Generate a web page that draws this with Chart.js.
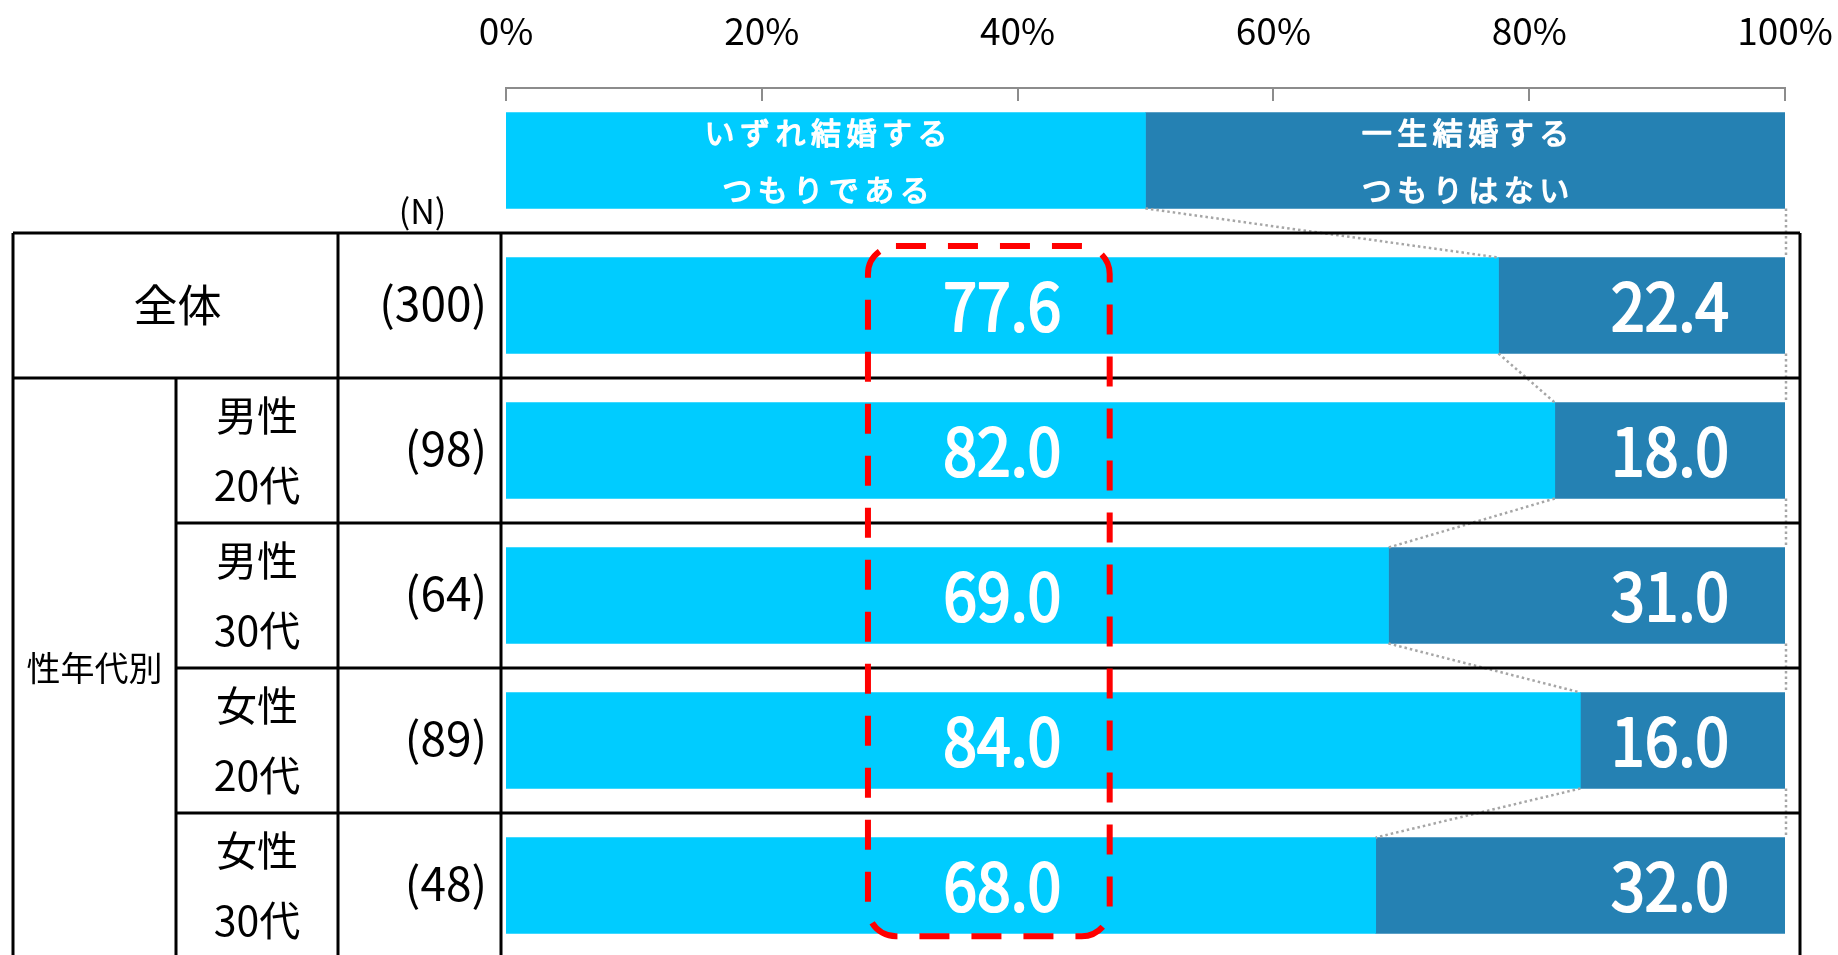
<!DOCTYPE html>
<html lang="ja">
<head>
<meta charset="utf-8">
<title>結婚意向</title>
<script src="https://cdn.jsdelivr.net/npm/chart.js@4.4.1/dist/chart.umd.min.js"></script>
<style>
  html, body { margin: 0; padding: 0; background: #fff; overflow: hidden; }
  #wrap { position: relative; width: 1838px; height: 958px; }
</style>
</head>
<body>
<div id="wrap"><canvas id="marriageChart"></canvas></div>
<script>
// Dados do gráfico
const seriesNames = [["いずれ結婚する", "つもりである"], ["一生結婚する", "つもりはない"]];
const rowLabels = [["全体"], ["男性", "20代"], ["男性", "30代"], ["女性", "20代"], ["女性", "30代"]];
const sampleSizes = [300, 98, 64, 89, 48];
const willMarry = [77.6, 82.0, 69.0, 84.0, 68.0];
const neverMarry = [22.4, 18.0, 31.0, 16.0, 32.0];
const xTicks = [0, 20, 40, 60, 80, 100];
const groupLabel = "性年代別";
const nHeader = "(N)";
// faixa do cabeçalho (legenda) desenhada como uma barra 50/50
const legendShare = [50, 50];

const colors = ["#00CCFF", "#2581B3"];
const FONT = "'Noto Sans CJK JP', 'Noto Sans', sans-serif";

// Posições fixas da tabela (colunas à esquerda do gráfico)
const TABLE = { left: 13, sub: 176, n: 338, chart: 501, right: 1800 };

// Escreve texto estreitado horizontalmente (fator sx), com contorno opcional para engrossar
function condensedText(ctx, text, px, py, sx, stroke) {
  ctx.save();
  ctx.translate(px, py);
  ctx.scale(sx, 1);
  if (stroke) {
    ctx.lineWidth = stroke;
    ctx.strokeStyle = ctx.fillStyle;
    ctx.lineJoin = "round";
    ctx.strokeText(text, 0, 0);
  }
  ctx.fillText(text, 0, 0);
  ctx.restore();
}

// Plugin que desenha a tabela, os rótulos, as linhas pontilhadas e a caixa vermelha
const tablePlugin = {
  id: "tablePlugin",
  afterDatasetsDraw(chart) {
    const { ctx, chartArea } = chart;
    const x = chart.scales.x;
    const y = chart.scales.y;
    const pitch = y.getPixelForValue(1) - y.getPixelForValue(0);
    const bottom = chart.height;
    const metaA = chart.getDatasetMeta(0).data;
    const metaB = chart.getDatasetMeta(1).data;

    ctx.save();

    // Marcas do eixo (para dentro)
    ctx.strokeStyle = "#8c8c8c";
    ctx.lineWidth = 2;
    xTicks.forEach((t) => {
      const px = Math.round(x.getPixelForValue(t));
      ctx.beginPath();
      ctx.moveTo(px, chartArea.top);
      ctx.lineTo(px, chartArea.top + 13);
      ctx.stroke();
    });

    // Linhas pontilhadas entre as barras
    ctx.strokeStyle = "#a6a6a6";
    ctx.lineWidth = 2.5;
    ctx.setLineDash([2.5, 3]);
    for (let i = 0; i < metaA.length - 1; i++) {
      const a = metaA[i], b = metaA[i + 1];
      const c = metaB[i], d = metaB[i + 1];
      ctx.beginPath();
      ctx.moveTo(a.x, a.y + a.height / 2);
      ctx.lineTo(b.x, b.y - b.height / 2);
      ctx.moveTo(c.x + 1, c.y + c.height / 2);
      ctx.lineTo(d.x + 1, d.y - d.height / 2);
      ctx.stroke();
    }
    ctx.setLineDash([]);

    // Linhas da tabela
    ctx.strokeStyle = "#000";
    ctx.lineWidth = 3;
    const line = (x1, y1, x2, y2) => {
      ctx.beginPath();
      ctx.moveTo(x1, y1);
      ctx.lineTo(x2, y2);
      ctx.stroke();
    };
    const b0 = y.getPixelForValue(0) + pitch / 2;
    const b1 = y.getPixelForValue(1) + pitch / 2;
    line(TABLE.left, b0, TABLE.right, b0);
    line(TABLE.left, b1, TABLE.right, b1);
    for (let i = 2; i < rowLabels.length; i++) {
      const bi = y.getPixelForValue(i) + pitch / 2;
      line(TABLE.sub, bi, TABLE.right, bi);
    }
    line(TABLE.left, b0, TABLE.left, bottom);
    line(TABLE.sub, b1, TABLE.sub, bottom);
    line(TABLE.n, b0, TABLE.n, bottom);
    line(TABLE.chart, b0, TABLE.chart, bottom);
    line(TABLE.right, b0, TABLE.right, bottom);

    // Texto do cabeçalho dentro da barra 50/50
    ctx.fillStyle = "#fff";
    ctx.textAlign = "center";
    ctx.textBaseline = "middle";
    ctx.font = "30px " + FONT;
    ctx.letterSpacing = "5.5px";
    [metaA[0], metaB[0]].forEach((bar, k) => {
      const cx = (bar.base + bar.x) / 2 + 3;
      condensedText(ctx, seriesNames[k][0], cx, bar.y - 28, 1, 1.4);
      condensedText(ctx, seriesNames[k][1], cx, bar.y + 29, 1, 1.4);
    });
    ctx.letterSpacing = "0px";

    // Rótulos das linhas
    ctx.fillStyle = "#000";
    rowLabels.forEach((lbl, i) => {
      const cy = y.getPixelForValue(i + 1);
      if (lbl.length === 1) {
        ctx.font = "44px " + FONT;
        ctx.fillText(lbl[0], (TABLE.left + TABLE.n) / 2 + 2, cy);
      } else {
        ctx.font = "41px " + FONT;
        ctx.fillText(lbl[0], (TABLE.sub + TABLE.n) / 2, cy - 35);
        ctx.fillText(lbl[1], (TABLE.sub + TABLE.n) / 2, cy + 35);
      }
    });
    ctx.font = "34px " + FONT;
    ctx.fillText(groupLabel, (TABLE.left + TABLE.sub) / 2, (b1 + bottom) / 2);

    // Coluna N
    ctx.font = "34px " + FONT;
    ctx.fillText(nHeader, (TABLE.n + TABLE.chart) / 2 + 3, b0 - 22);
    ctx.textAlign = "right";
    ctx.font = "46px " + FONT;
    sampleSizes.forEach((n, i) => {
      ctx.fillText("(" + n + ")", 487, y.getPixelForValue(i + 1) - 2);
    });

    // Valores dentro das barras
    ctx.fillStyle = "#fff";
    ctx.font = "66px " + FONT;
    for (let i = 1; i < metaA.length; i++) {
      ctx.textAlign = "center";
      condensedText(ctx, willMarry[i - 1].toFixed(1), x.getPixelForValue(38.8), metaA[i].y, 0.92, 2.2);
      ctx.textAlign = "right";
      condensedText(ctx, neverMarry[i - 1].toFixed(1), x.getPixelForValue(100) - 56, metaB[i].y, 0.92, 2.2);
    }

    // Caixa vermelha tracejada de destaque
    const left = x.getPixelForValue(28.3);
    const right = x.getPixelForValue(47.2);
    const top = y.getPixelForValue(1) - pitch * 0.41;
    const bot = y.getPixelForValue(rowLabels.length) + pitch * 0.35;
    ctx.strokeStyle = "#ff0000";
    ctx.lineWidth = 6;
    ctx.setLineDash([30, 22]);
    ctx.beginPath();
    ctx.roundRect(left, top, right - left, bot - top, 28);
    ctx.stroke();

    ctx.restore();
  },
};

// Cria o gráfico de barras empilhadas horizontais
const ctx = document.getElementById("marriageChart");
new Chart(ctx, {
  type: "bar",
  data: {
    labels: ["", ...rowLabels.map((l) => l.join(""))],
    datasets: [
      {
        label: seriesNames[0].join(""),
        data: [legendShare[0], ...willMarry],
        backgroundColor: colors[0],
        barThickness: 96,
      },
      {
        label: seriesNames[1].join(""),
        data: [legendShare[1], ...neverMarry],
        backgroundColor: colors[1],
        barThickness: 96,
      },
    ],
  },
  options: {
    indexAxis: "y",
    responsive: true,
    maintainAspectRatio: false,
    animation: false,
    layout: { padding: { left: 506, right: 53, top: 0, bottom: 0 } },
    plugins: {
      legend: { display: false },
      tooltip: { enabled: false },
    },
    scales: {
      x: {
        type: "linear",
        position: "top",
        stacked: true,
        min: 0,
        max: 100,
        afterBuildTicks: (scale) => {
          scale.ticks = xTicks.map((v) => ({ value: v }));
        },
        afterFit: (scale) => {
          // altura fixa do eixo e sem folga lateral extra dos rótulos
          scale.height = 88;
          scale.paddingLeft = 0;
          scale.paddingRight = 0;
        },
        grid: { display: false, drawTicks: false },
        border: { display: true, color: "#8c8c8c", width: 2 },
        ticks: {
          autoSkip: false,
          maxRotation: 0,
          padding: 35,
          color: "#000",
          font: { family: FONT, size: 37 },
          callback: (v) => v + "%",
        },
      },
      y: {
        type: "category",
        stacked: true,
        display: false,
        offset: true,
      },
    },
  },
  plugins: [tablePlugin],
});
</script>
</body>
</html>
